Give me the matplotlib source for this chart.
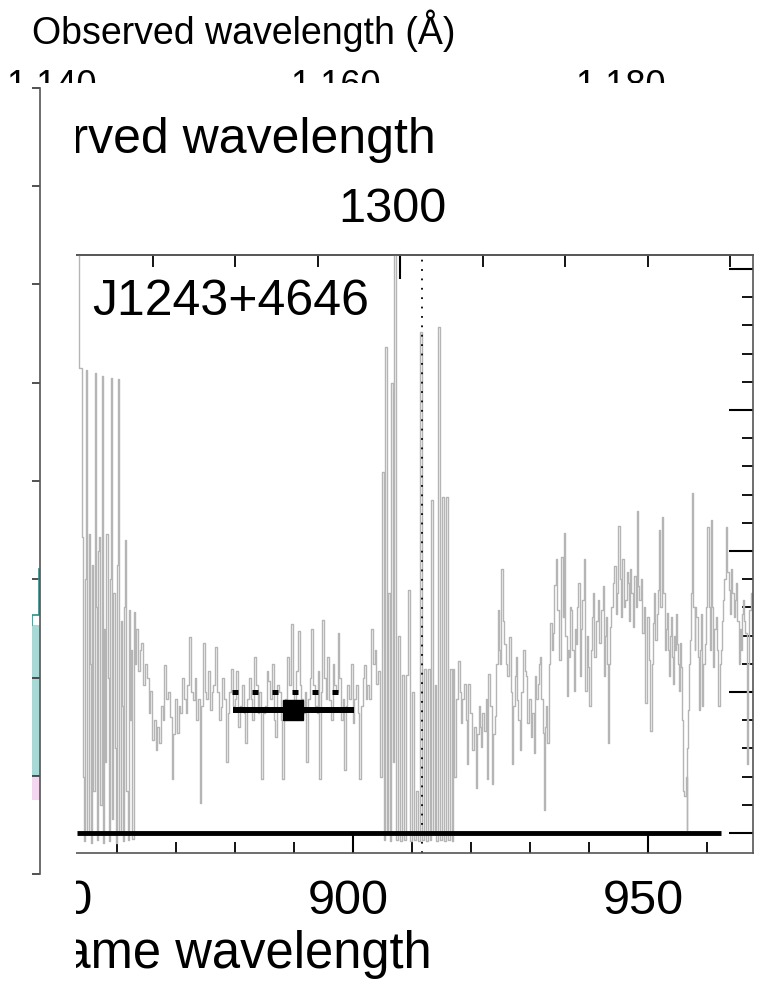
import matplotlib.pyplot as plt
from matplotlib.ticker import MultipleLocator
from matplotlib.transforms import ScaledTranslation
import numpy as np

plt.rcParams['font.family'] = ['Liberation Sans', 'DejaVu Sans']

# redshift of J1243+4646, used for the observed-wavelength axis
Z = 0.4317

# rest-frame spectrum (Angstrom, flux), in four stretches
# blue edge of the detector: very noisy
wave_a = [853.2, 853.9, 854.1, 854.3, 854.5, 854.7, 854.9, 855.1, 855.3, 855.5,
          855.7, 855.9, 856.1, 856.3, 856.5, 856.7, 856.9, 857.1, 857.3, 857.5,
          857.7, 857.9, 858.1, 858.3, 858.5, 858.7, 858.9, 859.1, 859.3, 859.5,
          859.7, 859.9, 860.1, 860.3, 860.5, 860.7, 860.9, 861.1, 861.3, 861.5,
          861.7, 861.9, 862.1, 862.3, 862.5, 862.7, 862.9, 863.1, 863.4, 863.7,
          864.0]
flux_a = [4.60, 3.30, 2.10, 0.40, -0.06, 1.80, 3.28, 0.00, 2.12, 1.20,
          -0.07, 1.90, 0.30, 3.26, 1.60, -0.05, 2.00, 2.10, 0.20, 3.24,
          -0.07, 1.45, 0.50, 2.12, 1.10, -0.06, 1.80, 3.23, 0.10, 1.70,
          0.60, -0.07, 1.90, 3.22, 0.00, 1.50, 0.90, -0.06, 1.60, 2.08,
          0.30, -0.05, 1.58, 0.80, 1.30, -0.04, 1.57, 1.20, 1.45, 1.15,
          1.30]

# flat stretch blueward of the gap
wave_b = [864.3, 864.6, 864.9, 865.2, 865.5, 865.8, 866.1, 866.4, 866.7, 867.0,
          867.3, 867.6, 867.9, 868.2, 868.5, 868.8, 869.1, 869.4, 869.7, 870.0,
          870.3, 870.6, 870.9, 871.2, 871.5, 871.8, 872.1, 872.4, 872.7, 873.0,
          873.3, 873.6, 873.9, 874.1, 874.4, 874.7, 875.0, 875.3, 875.6, 875.9,
          876.2, 876.5, 876.8, 877.1, 877.4, 877.7, 878.0, 878.3, 878.6, 878.9,
          879.2, 879.5, 879.8, 880.1, 880.4, 880.7, 881.0, 881.3, 881.6, 881.9,
          882.2, 882.5, 882.8, 883.1, 883.4, 883.7, 884.0, 884.3, 884.6, 884.9,
          885.2, 885.5, 885.8, 886.1, 886.4, 886.7, 887.0, 887.3, 887.6, 887.9,
          888.1, 888.4, 888.7, 889.0, 889.3, 889.6, 889.9, 890.2, 890.5, 890.8,
          891.1, 891.4, 891.7, 892.0, 892.2, 892.5, 892.8, 893.1, 893.4, 893.7,
          894.0, 894.2, 894.4, 894.7, 894.9, 895.2, 895.5, 895.8, 896.1, 896.4,
          896.7, 897.0, 897.3, 897.5, 897.8, 898.1, 898.4, 898.6, 898.9, 899.2,
          899.5, 899.8, 900.1, 900.4, 900.7, 901.0, 901.2, 901.5, 901.8, 902.0,
          902.3, 902.6, 902.9, 903.2, 903.5, 903.8, 904.1, 904.4]
flux_b = [1.35, 1.05, 1.20, 1.10, 0.85, 1.01, 0.66, 0.80, 0.59, 0.75,
          0.64, 0.90, 0.80, 1.19, 0.95, 1.00, 0.82, 0.38, 0.70, 0.95,
          0.71, 0.90, 0.85, 1.10, 0.95, 0.85, 1.05, 1.39, 1.00, 0.94,
          1.10, 0.80, 0.95, 0.21, 0.90, 1.35, 1.00, 0.95, 1.15, 0.87,
          1.00, 1.05, 1.32, 1.00, 0.80, 0.89, 1.10, 0.95, 0.50, 0.85,
          1.00, 1.16, 0.90, 0.95, 1.15, 0.75, 0.90, 1.05, 0.85, 0.64,
          0.95, 1.10, 0.95, 0.80, 1.25, 1.05, 0.85, 1.00, 0.38, 0.85,
          0.90, 1.15, 1.08, 0.95, 1.20, 0.80, 0.68, 1.05, 1.00, 0.80,
          0.38, 0.90, 0.95, 1.25, 1.05, 1.48, 1.00, 0.90, 1.15, 1.43,
          1.05, 0.95, 0.85, 1.00, 0.50, 0.95, 1.10, 1.45, 1.05, 0.90,
          0.85, 1.15, 0.38, 1.00, 1.51, 1.10, 0.95, 1.25, 0.94, 0.80,
          1.20, 1.05, 1.00, 1.42, 1.10, 0.80, 0.95, 0.45, 0.90, 1.05,
          0.95, 1.20, 0.78, 0.95, 1.05, 0.85, 0.38, 0.90, 1.10, 1.19,
          0.95, 1.05, 0.95, 1.45, 1.20, 1.30, 1.06, 1.15]

# airglow / Lyman-limit gap
wave_c = [904.7, 905.1, 905.3, 905.6, 905.8, 906.1, 906.3, 906.6, 906.8, 907.1,
          907.5, 907.8, 908.1, 908.5, 908.8, 909.2, 909.5, 909.8, 910.2, 910.5,
          910.8, 911.2, 911.5, 911.9, 912.2, 912.5, 912.9, 913.1, 913.4, 913.7,
          914.1, 914.2, 914.6, 914.9, 915.3, 915.6, 915.9, 916.3, 916.6, 916.9]
flux_c = [0.40, 2.56, -0.05, 3.45, 0.00, 1.70, -0.06, 3.19, 0.50, 4.60,
          -0.05, 1.40, -0.06, 1.12, -0.05, 1.12, 1.72, -0.06, 1.00, -0.05,
          0.30, -0.06, 3.55, -0.05, 1.16, -0.06, 1.16, -0.05, 2.36, 0.00,
          1.05, -0.06, 3.59, -0.05, 2.38, -0.06, 2.38, -0.05, 1.16, -0.06]

# rising continuum redward of the Lyman limit
wave_d = [917.0, 917.3, 917.6, 918.0, 918.2, 918.4, 918.7, 919.0, 919.2, 919.4,
          919.7, 920.0, 920.4, 920.7, 921.0, 921.2, 921.4, 921.6, 921.8, 922.1,
          922.4, 922.6, 922.8, 923.1, 923.4, 923.7, 923.9, 924.1, 924.4, 924.6,
          924.8, 925.0, 925.3, 925.5, 925.8, 926.0, 926.3, 926.6, 926.8, 927.1,
          927.3, 927.5, 927.7, 927.9, 928.2, 928.4, 928.7, 929.0, 929.2, 929.4,
          929.7, 930.0, 930.3, 930.5, 930.7, 931.0, 931.2, 931.4, 931.6, 931.8,
          932.0, 932.3, 932.4, 932.6, 932.8, 933.1, 933.3, 933.5, 933.8, 934.0,
          934.2, 934.5, 934.8, 935.1, 935.4, 935.7, 935.9, 936.1, 936.3, 936.5,
          936.7, 936.9, 937.1, 937.3, 937.5, 937.7, 937.9, 938.1, 938.3, 938.6,
          938.8, 939.0, 939.3, 939.5, 939.7, 939.9, 940.2, 940.4, 940.6, 940.8,
          941.0, 941.3, 941.6, 941.9, 942.2, 942.4, 942.6, 942.8, 943.0, 943.2,
          943.3, 943.5, 943.6, 943.9, 944.1, 944.4, 944.6, 944.8, 945.1, 945.3,
          945.5, 945.8, 946.0, 946.3, 946.5, 946.7, 946.9, 947.1, 947.3, 947.5,
          947.8, 948.0, 948.2, 948.4, 948.7, 948.9, 949.2, 949.4, 949.7, 949.8,
          950.0, 950.2, 950.3, 950.5, 950.7, 950.9, 951.1, 951.4, 951.6, 951.8,
          952.0, 952.2, 952.5, 952.7, 952.9, 953.1, 953.3, 953.5, 953.6, 953.8,
          953.9, 954.1, 954.3, 954.5, 954.6, 954.8, 955.0, 955.2, 955.4, 955.6,
          955.7, 955.9, 956.0, 956.3, 956.5, 956.6, 956.7, 956.8, 957.0, 957.1,
          957.4, 957.6, 957.8, 958.0, 958.1, 958.3, 958.5, 958.7, 958.8, 958.9,
          959.1, 959.3, 959.5, 959.7, 959.9, 960.2, 960.4, 960.5, 960.7, 960.8,
          961.0, 961.1, 961.4, 961.6, 961.8, 962.1, 962.3, 962.5, 962.6, 962.8,
          963.0, 963.3, 963.5, 963.8, 964.0, 964.2, 964.4, 964.6, 964.8, 965.0,
          965.2, 965.5, 965.7, 965.9, 966.0, 966.2, 966.4, 966.6, 966.8, 966.9,
          967.1, 967.3, 967.5, 967.8]
flux_d = [1.16, 0.40, 0.95, 1.22, 1.00, 0.78, 0.95, 1.06, 0.80, 0.49,
          1.06, 0.85, 0.59, 0.75, 0.32, 0.70, 0.90, 0.75, 0.61, 0.85,
          0.72, 0.95, 0.38, 1.13, 0.90, 0.35, 0.70, 0.83, 1.20, 1.58,
          1.30, 1.20, 1.87, 1.50, 1.34, 1.20, 1.11, 1.39, 1.00, 0.49,
          0.90, 1.11, 1.25, 0.94, 0.80, 0.59, 1.00, 1.30, 1.15, 1.11,
          0.78, 0.95, 0.68, 0.85, 0.57, 1.11, 0.95, 1.06, 1.20, 1.25,
          0.95, 0.71, 0.16, 0.75, 0.90, 0.64, 1.20, 1.49, 1.30, 1.42,
          1.76, 1.94, 1.58, 1.23, 1.96, 1.53, 2.13, 1.40, 0.97, 1.30,
          1.25, 1.60, 1.58, 1.30, 1.01, 1.45, 1.34, 1.60, 1.77, 1.11,
          1.45, 1.65, 1.94, 1.01, 1.40, 1.18, 0.90, 1.30, 1.53, 1.70,
          1.25, 1.50, 1.65, 1.35, 1.58, 1.75, 1.11, 1.40, 1.53, 1.20,
          0.64, 1.20, 1.46, 1.60, 1.77, 1.89, 1.55, 1.70, 2.18, 1.80,
          1.53, 1.94, 1.60, 1.65, 1.85, 1.77, 1.50, 1.87, 1.70, 1.46,
          1.82, 1.60, 2.28, 1.75, 1.65, 1.80, 1.42, 1.60, 0.92, 1.30,
          1.53, 1.35, 1.23, 0.72, 1.20, 1.49, 1.70, 1.37, 1.55, 1.72,
          2.15, 1.60, 2.24, 1.70, 1.30, 1.45, 1.56, 1.30, 1.11, 1.40,
          1.53, 1.25, 1.06, 1.40, 1.30, 1.55, 1.34, 1.20, 1.01, 1.35,
          1.18, 0.80, 0.30, 0.26, 0.40, 0.02, 0.60, 0.87, 1.20, 1.37,
          1.70, 2.41, 1.60, 1.30, 1.60, 1.53, 1.25, 0.87, 1.20, 1.30,
          1.55, 0.90, 1.20, 1.34, 1.60, 2.17, 1.60, 1.30, 1.70, 2.22,
          1.60, 1.18, 1.45, 1.53, 1.30, 0.90, 1.20, 1.30, 1.50, 1.65,
          1.80, 2.17, 1.85, 1.72, 1.55, 1.87, 1.70, 1.53, 1.65, 1.77,
          1.50, 1.20, 1.45, 1.30, 1.55, 1.65, 1.50, 1.42, 1.10, 0.49,
          1.20, 1.58, 1.70, 1.42]

assert len(wave_a) == len(flux_a)
assert len(wave_b) == len(flux_b)
assert len(wave_c) == len(flux_c)
assert len(wave_d) == len(flux_d)
wave_rest = wave_a + wave_b + wave_c + wave_d
flux = flux_a + flux_b + flux_c + flux_d

# flux measurement and model level in the 880-900 A window
meas_wave, meas_werr, meas_flux = 889.9, 10.3, 0.87
model_range = [879.5, 898.0]
model_flux = 1.0
lyman_limit = 911.75
zero_end = 962.4

# tick values
rest_major = [850, 900, 950]
rest_minor = [860, 870, 880, 890, 910, 920, 930, 940, 960]
obs_major = [1200, 1300, 1400]
obs_minor = [1220, 1240, 1260, 1280, 1320, 1340, 1360, 1380]

# observed-wavelength ticks of the panel underneath
obs_ticks = [1140, 1160, 1180]
obs_labels = ['1,140', '1,160', '1,180']

# histogram strip of the left-hand panel
teal_band = (1.0, 2.53)
teal_edge_x = [0.85, 0.85, 0.0, 0.0]
teal_edge_y = [3.10, 2.64, 2.64, 2.53]
pink_band = (0.75, 0.99)

W, H = 766, 984
fig = plt.figure(figsize=(W / 100, H / 100), dpi=100)


def rect(x0, y0, x1, y1):
    # pixel box (y from top) -> figure fraction
    return [x0 / W, 1 - y1 / H, (x1 - x0) / W, (y1 - y0) / H]


def blank(a):
    a.set_xticks([])
    a.set_yticks([])
    for s in a.spines.values():
        s.set_visible(False)


def nudge(axis, dx_px):
    # shift tick labels sideways by a few pixels
    off = ScaledTranslation(dx_px / 100, 0, fig.dpi_scale_trans)
    for t in axis.get_major_ticks():
        t.label1.set_transform(t.label1.get_transform() + off)
        t.label2.set_transform(t.label2.get_transform() + off)


# ---- bottom layer: observed wavelength axis of the panel behind
fig.text(32 / W, 1 - 44 / H, 'Observed wavelength (Å)', fontsize=27,
         ha='left', va='baseline', zorder=0.5)
ax_top = fig.add_axes(rect(0, 104, W, 106), zorder=0.5)
ax_top.set_xlim(1136.34, 1190.28)
ax_top.set_xticks(obs_ticks, labels=obs_labels)
ax_top.xaxis.tick_top()
ax_top.tick_params(length=0, pad=0, labelsize=26)
ax_top.set_yticks([])
for s in ax_top.spines.values():
    s.set_visible(False)
ax_top.patch.set_visible(False)

# ---- white card with the spectrum panel
ax_card = fig.add_axes(rect(76, 83, W, H), zorder=1)
blank(ax_card)

ax = fig.add_axes(rect(20, 255, 753, 853), zorder=2)
ax.plot(wave_rest, flux, color='#b5b5b5', lw=1.0, drawstyle='steps-mid')
ax.plot([wave_rest[0], zero_end], [0, 0], color='black', lw=3.5,
        solid_capstyle='butt')
ax.axvline(lyman_limit, color='black', lw=1.3, linestyle=(0, (1, 4.2)))
ax.plot(model_range, [model_flux, model_flux], color='black', lw=3.6,
        linestyle=(0, (1.2, 2.8)), dash_capstyle='butt')
ax.errorbar(meas_wave, meas_flux, xerr=meas_werr, fmt='s', color='black',
            ms=15, elinewidth=4.3, capsize=0)
ax.text(0.098, 0.9, 'J1243+4646', transform=ax.transAxes, fontsize=36,
        ha='left', va='baseline')

ax.set_xlim(843.56, 967.8)
ax.set_ylim(-0.142, 4.099)
ax.set_xticks(rest_major)
ax.set_xticks(rest_minor, minor=True)
ax.yaxis.tick_right()
ax.yaxis.set_major_locator(MultipleLocator(1))
ax.yaxis.set_minor_locator(MultipleLocator(0.2))
ax.tick_params(axis='x', which='major', direction='in', length=13, width=1.5,
               labelsize=35, pad=18.5, top=False)
ax.tick_params(axis='x', which='minor', direction='in', length=8, width=1.3,
               top=False)
ax.tick_params(axis='y', which='major', direction='in', length=17, width=1.5,
               labelright=False, left=False)
ax.tick_params(axis='y', which='minor', direction='in', length=8, width=1.3,
               left=False)
for s in ax.spines.values():
    s.set_color('#555555')
    s.set_linewidth(1.2)
ax.spines['left'].set_visible(False)

secax = ax.secondary_xaxis('top', functions=(lambda w: w * (1 + Z),
                                             lambda o: o / (1 + Z)))
secax.set_xticks(obs_major)
secax.set_xticks(obs_minor, minor=True)
secax.tick_params(which='major', direction='in', length=17, width=1.5,
                  labelsize=35, pad=16.5)
secax.tick_params(which='minor', direction='in', length=8.5, width=1.3)
secax.spines['top'].set_color('#555555')
secax.spines['top'].set_linewidth(1.2)

nudge(ax.xaxis, -5)
nudge(secax.xaxis, -8)

fig.text(436 / W, 1 - 153 / H, 'Observed wavelength', fontsize=36,
         ha='right', va='baseline', zorder=2.5)
fig.text(432 / W, 1 - 968 / H, 'Rest-frame wavelength', fontsize=36.5,
         ha='right', va='baseline', zorder=2.5)

# ---- left strip: edge of another panel laid over the card
ax_left = fig.add_axes(rect(0, 83, 76, H), zorder=3)
blank(ax_left)

ax_hist = fig.add_axes(rect(32, 88, 40, 874), zorder=4)
ax_hist.set_xlim(0, 1)
ax_hist.set_ylim(0, 8)
ax_hist.fill_betweenx(teal_band, 0, 1, color='#a9d9d6', lw=0)
ax_hist.plot(teal_edge_x, teal_edge_y, color='#2f8f8a', lw=1.2)
ax_hist.fill_betweenx(pink_band, 0, 1, color='#f4d6f1', lw=0)
ax_hist.set_xticks([])
ax_hist.yaxis.tick_right()
ax_hist.set_yticks(np.arange(0, 9))
ax_hist.tick_params(axis='y', direction='in', length=5.5, width=1.2,
                    labelright=False, color='#333333')
for side in ['left', 'top', 'bottom']:
    ax_hist.spines[side].set_visible(False)
ax_hist.spines['right'].set_color('#555555')
ax_hist.spines['right'].set_linewidth(1.2)
ax_hist.patch.set_visible(False)

fig.savefig('out.png', dpi=100)
